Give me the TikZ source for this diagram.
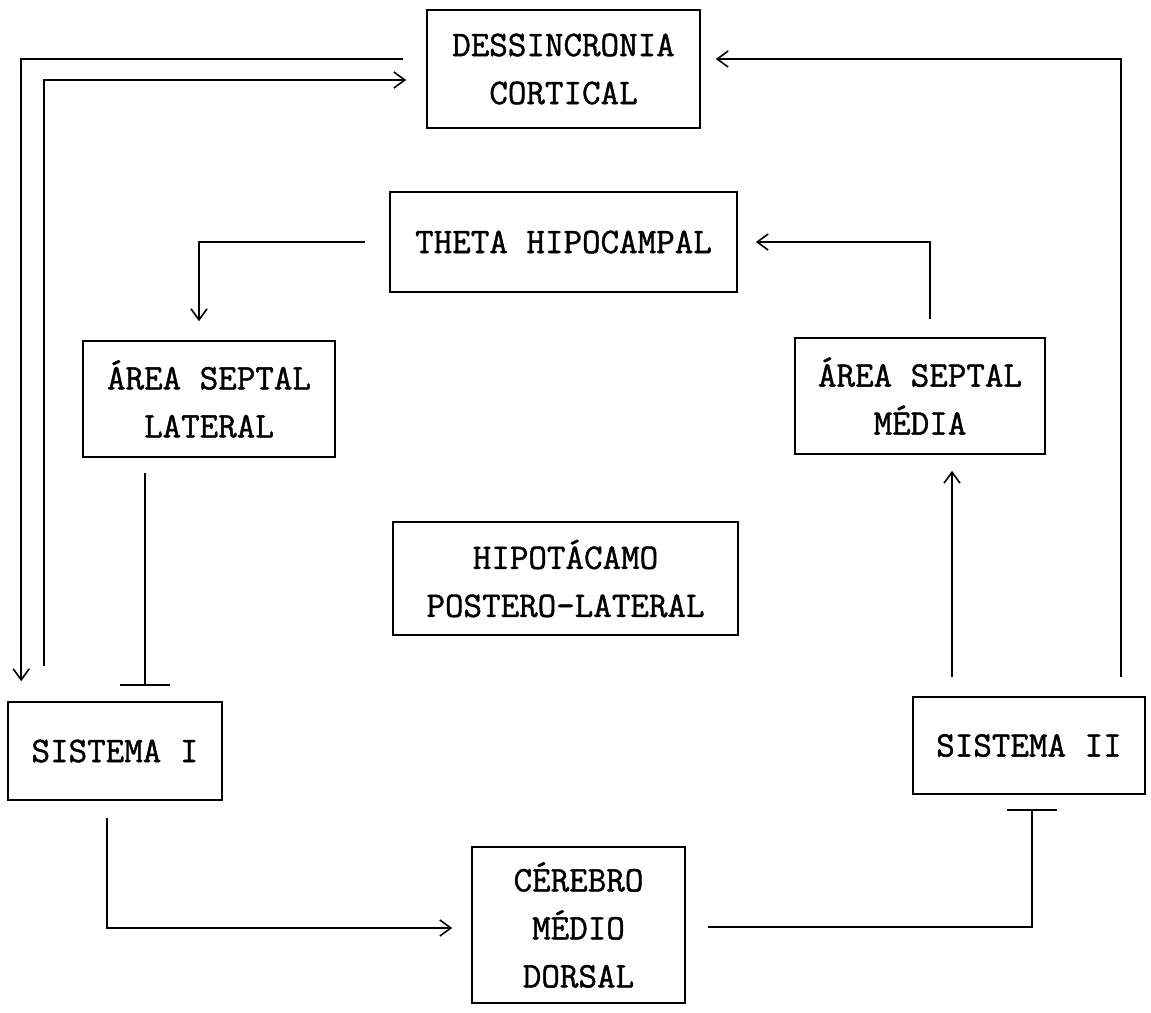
\documentclass[tikz,border=0pt]{standalone}
\usepackage{fontspec}
\newfontfamily\typew{Latin Modern Mono}[FakeBold=1.2]
\usetikzlibrary{arrows.meta,calc}
\begin{document}
\begin{tikzpicture}[x=1pt,y=-1pt,
  box/.style={draw,line width=1.6pt,inner sep=0pt,align=center,
    font=\fontsize{36}{48}\selectfont\typew\bfseries},
  arr/.style={line width=1.6pt,-{Straight Barb[length=11pt,width=16pt,line width=1.6pt]}},
  inh/.style={line width=1.6pt,-{Bar[width=50pt,line width=2.2pt]}}]
\useasboundingbox (0,0) rectangle (1151,1012);

\node[box,minimum width=273pt,minimum height=118pt] (dess) at (563.5,69) {DESSINCRONIA\\CORTICAL};
\node[box,minimum width=347pt,minimum height=100pt] (theta) at (563.5,242) {THETA HIPOCAMPAL};
\node[box,minimum width=252pt,minimum height=116pt] (asl) at (209,399) {ÁREA SEPTAL\\LATERAL};
\node[box,minimum width=250pt,minimum height=116pt] (asm) at (920,396) {ÁREA SEPTAL\\MÉDIA};
\node[box,minimum width=345pt,minimum height=113pt] (hipo) at (565.5,578.5) {HIPOTÁCAMO\\POSTERO-LATERAL};
\node[box,minimum width=214pt,minimum height=98pt] (sis1) at (115,751) {SISTEMA I};
\node[box,minimum width=232pt,minimum height=97pt] (sis2) at (1029,745.5) {SISTEMA II};
\node[box,minimum width=213pt,minimum height=156pt] (cer) at (578.5,925) {CÉREBRO\\MÉDIO\\DORSAL};

% DESSINCRONIA -> SISTEMA I (outer)
\draw[arr] ($(dess.west)+(-23,-10)$) -| ($(sis1.north west)+(14,-20)$);
% SISTEMA I -> DESSINCRONIA (inner)
\draw[arr] ($(sis1.north west)+(37,-35)$) |- ($(dess.west)+(-20,11)$);
% SISTEMA II -> DESSINCRONIA
\draw[arr] ($(sis2.north east)+(-25,-19)$) |- ($(dess.east)+(15,-10)$);
% THETA -> AREA SEPTAL LATERAL
\draw[arr] ($(theta.west)+(-24,0)$) -| ($(asl.north)+(-10,-19)$);
% AREA SEPTAL MEDIA -> THETA
\draw[arr] ($(asm.north)+(10,-18)$) |- ($(theta.east)+(18,0)$);
% SISTEMA II -> AREA SEPTAL MEDIA
\draw[arr] ($(sis2.north)+(-77,-19)$) -- ($(asm.south)+(32,16)$);
% AREA SEPTAL LATERAL -| SISTEMA I
\draw[inh] ($(asl.south)+(-64,15)$) -- ($(sis1.north)+(30,-15)$);
% SISTEMA I -> CEREBRO
\draw[arr] ($(sis1.south)+(-8,17)$) |- ($(cer.west)+(-19,3)$);
% CEREBRO -| SISTEMA II
\draw[inh] ($(cer.east)+(22,2)$) -| ($(sis2.south)+(3,14)$);
\end{tikzpicture}
\end{document}
